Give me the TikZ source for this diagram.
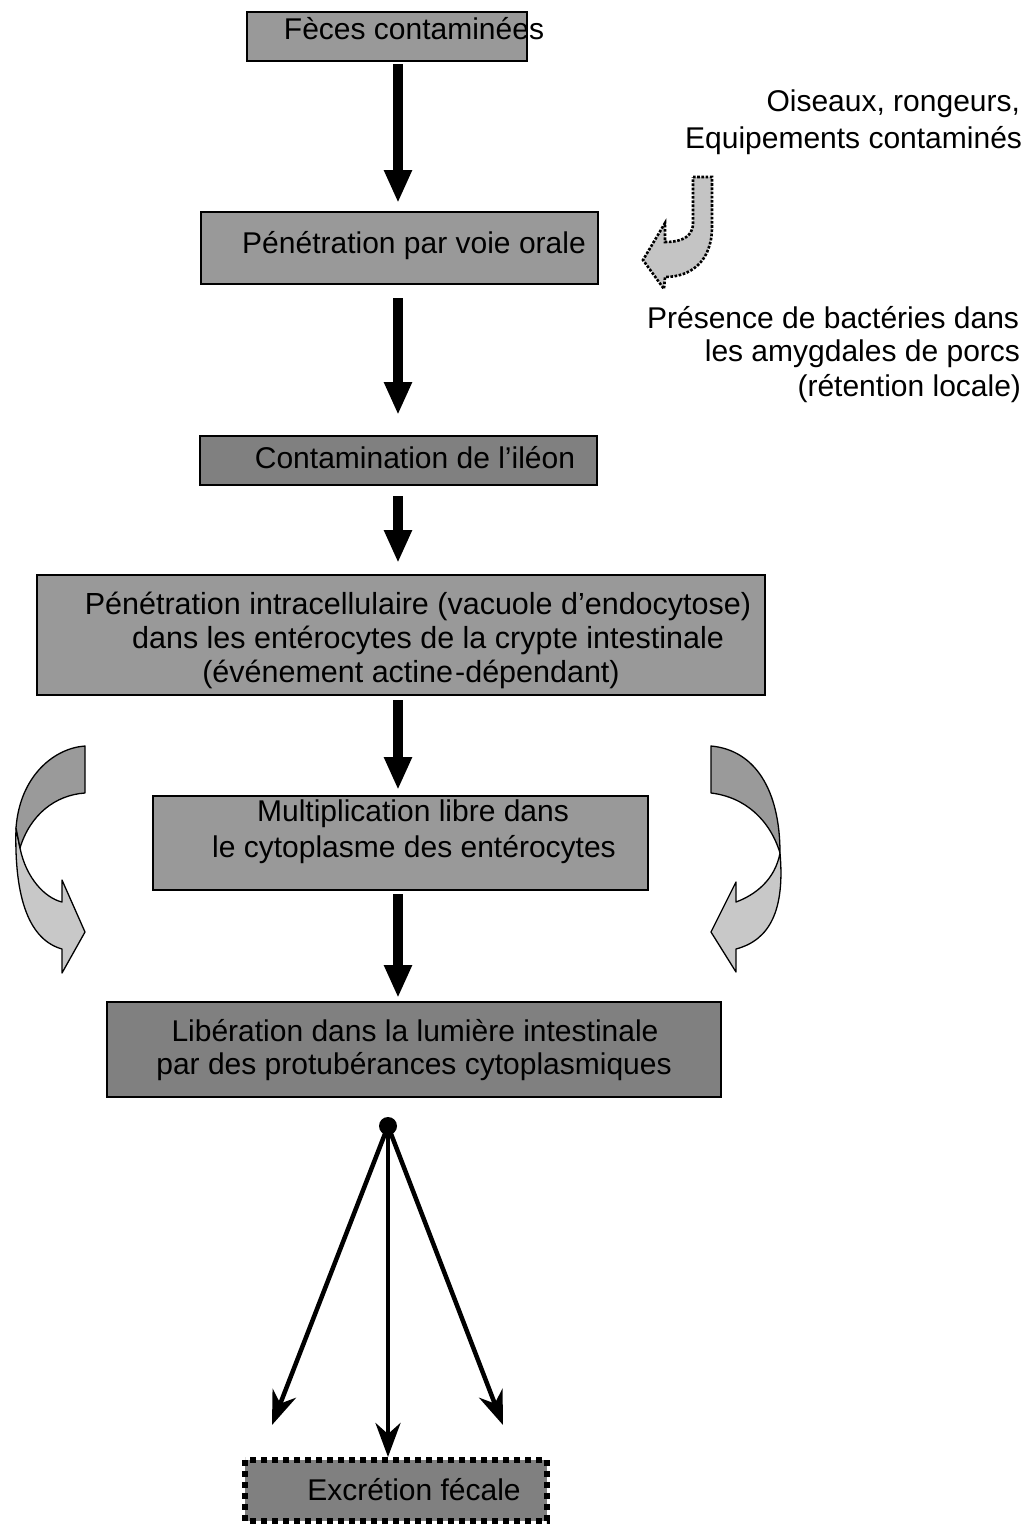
\documentclass[tikz,border=0pt]{standalone}
\usepackage{fontspec}
\setmainfont{Liberation Sans}
\usetikzlibrary{arrows.meta}
\definecolor{boxlight}{HTML}{999999}
\definecolor{boxdark}{HTML}{808080}
\definecolor{curvedark}{HTML}{9A9A9A}
\definecolor{curvelight}{HTML}{C8C8C8}
\definecolor{jfill}{HTML}{C4C4C4}
\begin{document}
\begin{tikzpicture}[x=1pt,y=-1pt,
  boxnode/.style={draw=black, line width=1.5pt, inner sep=0pt, outer sep=0pt},
  lbl/.style={font=\fontsize{30}{34}\selectfont, inner sep=0pt, outer sep=0pt, anchor=base},
  rlbl/.style={lbl, anchor=base east},
  bigarrow/.style={line width=10pt, -{Triangle[length=33pt,width=26pt]}},
  fanarrow/.style={line width=4.5pt, -{Stealth[length=34pt,width=25pt,inset=11pt]}},
  curvebord/.style={draw=black, line width=1.3pt, line join=round},
  jarrow/.style={draw=black, fill=jfill, line width=2.6pt, dash pattern=on 2.6pt off 1.6pt}]
\useasboundingbox[fill=white] (0,0) rectangle (1036,1526);

% boxes
\node[boxnode, fill=boxlight, minimum width=280pt, minimum height=49pt] (b1) at (387,36.5) {};
\node[boxnode, fill=boxlight, minimum width=397pt, minimum height=72pt] (b2) at (399.5,248) {};
\node[boxnode, fill=boxdark, minimum width=397pt, minimum height=49pt] (b3) at (398.5,460.5) {};
\node[boxnode, fill=boxlight, minimum width=728pt, minimum height=120pt] (b4) at (401,635) {};
\node[boxnode, fill=boxlight, minimum width=495pt, minimum height=94pt] (b5) at (400.5,843) {};
\node[boxnode, fill=boxdark, minimum width=614pt, minimum height=95pt] (b6) at (414,1049.5) {};
\node[boxnode, fill=boxdark, draw=none, minimum width=302pt, minimum height=61pt] (b7) at (396,1490.5) {};
\draw[line width=5.5pt, dash pattern=on 6pt off 5pt] (b7.north west) rectangle (b7.south east);

% texts
\node[lbl] (t1) at (414,39) {Fèces contaminées};
\node[lbl] (t2) at (414,253) {Pénétration par voie orale};
\node[lbl] (t3) at (415,468) {Contamination de l’iléon};
\node[lbl, font=\fontsize{30.5}{34}\selectfont] (t4a) at (418,614) {Pénétration intracellulaire (vacuole d’endocytose)};
\node[lbl, font=\fontsize{30.5}{34}\selectfont] (t4b) at (428,648) {dans les entérocytes de la crypte intestinale};
\node[lbl, font=\fontsize{30.5}{34}\selectfont] (t4c) at (411,682) {(événement actine\kern2pt-dépendant)};
\node[lbl] (t5a) at (413,821) {Multiplication libre dans};
\node[lbl] (t5b) at (414,857) {le cytoplasme des entérocytes};
\node[lbl] (t6a) at (415,1041) {Libération dans la lumière intestinale};
\node[lbl] (t6b) at (414,1074) {par des protubérances cytoplasmiques};
\node[lbl] (t7) at (414,1500) {Excrétion fécale};

\node[rlbl] (r1) at (1020,111) {Oiseaux, rongeurs,};
\node[rlbl] (r2) at (1022,148) {Equipements contaminés};
\node[rlbl] (r3) at (1019,328) {Présence de bactéries dans};
\node[rlbl] (r4) at (1020,361) {les amygdales de porcs};
\node[rlbl] (r5) at (1021,396) {(rétention locale)};

% main arrows
\coordinate (ax) at (398,0);
\draw[bigarrow, shorten <=3pt, shorten >=9pt] (b1.south -| ax) -- (b2.north -| ax);
\draw[bigarrow, shorten <=14pt, shorten >=21pt] (b2.south -| ax) -- (b3.north -| ax);
\draw[bigarrow, shorten <=11pt, shorten >=12pt] (b3.south -| ax) -- (b4.north -| ax);
\draw[bigarrow, shorten <=5pt, shorten >=6pt] (b4.south -| ax) -- (b5.north -| ax);
\draw[bigarrow, shorten <=4pt, shorten >=4pt] (b5.south -| ax) -- (b6.north -| ax);

% J arrow (dotted)
\path[jarrow] (693,177) -- (712,177) -- (712,227)
  .. controls (712,262) and (690,277) .. (665,277) -- (664,289) -- (643,260) -- (665,223) -- (665,242)
  .. controls (680,242) and (693,238) .. (693,223) -- cycle;

% left curved arrow
\path[curvebord, fill=curvelight] (16,828) .. controls (14,900) and (30,940) .. (62,949)
  -- (62,973) -- (85,932) -- (62,880) -- (62,902)
  .. controls (45,898) and (26,878) .. (20,848) -- cycle;
\path[curvebord, fill=curvedark] (85,746) .. controls (55,748) and (20,775) .. (16,828)
  -- (20,848) .. controls (30,815) and (55,795) .. (85,793) -- cycle;

% right curved arrow
\path[curvebord, fill=curvelight] (780,853) .. controls (785,910) and (770,940) .. (736,949)
  -- (736,972) -- (711,932) -- (736,882) -- (736,902)
  .. controls (755,895) and (775,880) .. (780,853) -- cycle;
\path[curvebord, fill=curvedark] (711,746) .. controls (755,750) and (780,790) .. (780,853)
  .. controls (770,820) and (745,797) .. (711,793) -- cycle;

% fan
\node[circle, fill=black, inner sep=0pt, minimum size=18pt] (dot) at (388,1126) {};
\coordinate (fl) at (272,1425);
\coordinate (fr) at (503,1425);
\draw[fanarrow] (dot.center) -- (fl);
\draw[fanarrow] (dot.center) -- (fr);
\draw[fanarrow, shorten >=3pt] (dot.center) -- (b7.north -| dot);
\end{tikzpicture}
\end{document}
